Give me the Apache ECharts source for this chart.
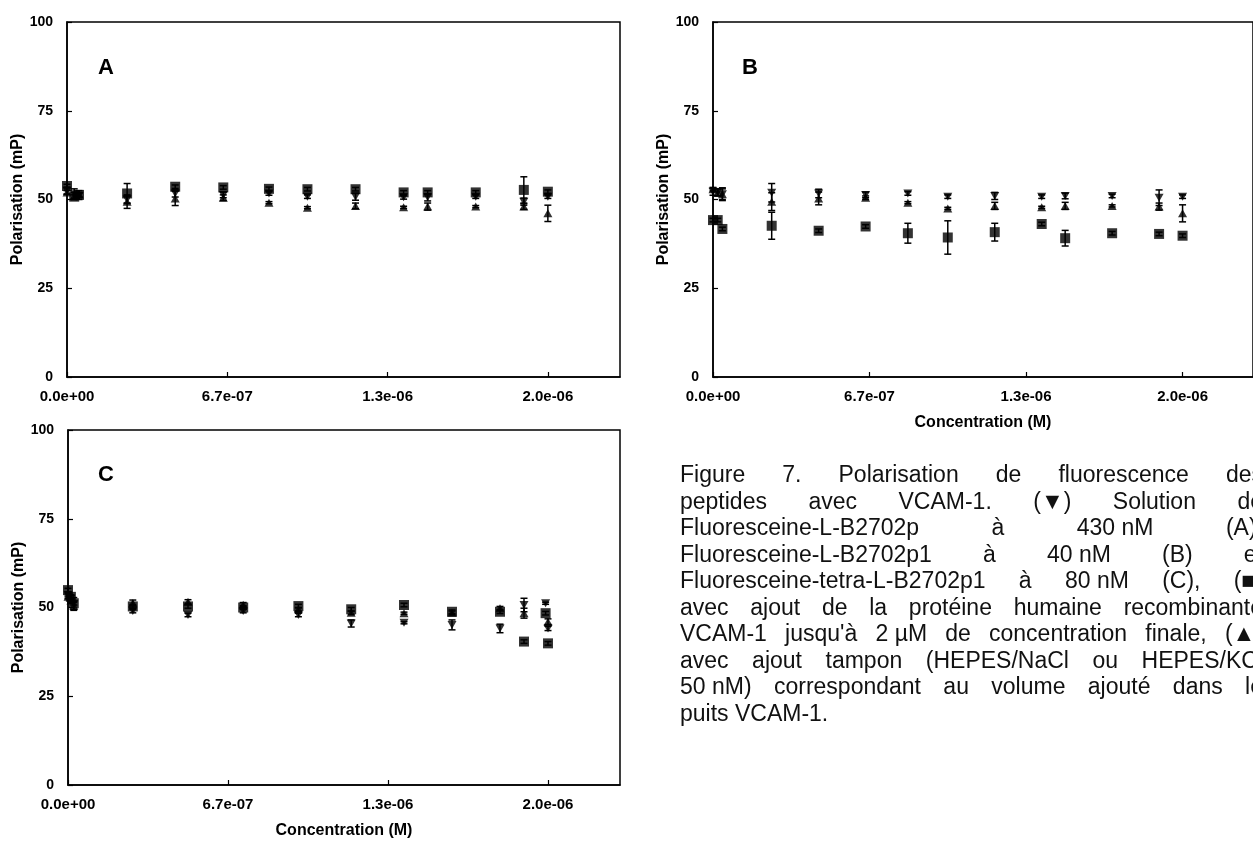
<!DOCTYPE html>
<html>
<head>
<meta charset="utf-8">
<script src="https://cdn.jsdelivr.net/npm/echarts@6/dist/echarts.min.js"></script>
<style>
  html, body { margin: 0; padding: 0; background: #fff; overflow: hidden; }
  #chart { position: absolute; left: 0; top: 0; width: 1253px; height: 843px; }
  #caption { position: absolute; left: 680px; top: 461px; width: 583px;
    font-family: "Liberation Sans", Arial, sans-serif; font-size: 23px; line-height: 26.5px; color: #111; }
  #caption div { white-space: nowrap; text-align: justify; text-align-last: justify; }
  #caption div.last { text-align: left; text-align-last: left; }
  .nb { display: inline-block; }
</style>
</head>
<body>
<div id="chart"></div>
<div id="caption">
  <div>Figure 7. Polarisation de fluorescence des</div>
  <div>peptides avec VCAM-1. <span class="nb">(▼)</span> Solution de</div>
  <div>Fluoresceine-L-B2702p à <span class="nb">430 nM</span> (A),</div>
  <div>Fluoresceine-L-B2702p1 à <span class="nb">40 nM</span> (B) et</div>
  <div>Fluoresceine-tetra-L-B2702p1 à <span class="nb">80 nM</span> (C), <span class="nb">(■)</span></div>
  <div>avec ajout de la protéine humaine recombinante</div>
  <div>VCAM-1 jusqu'à <span class="nb">2 µM</span> de concentration finale, <span class="nb">(▲)</span></div>
  <div>avec ajout tampon (HEPES/NaCl ou HEPES/KCl</div>
  <div><span class="nb">50 nM)</span> correspondant au volume ajouté dans le</div>
  <div class="last">puits VCAM-1.</div>
</div>
<script>
// ---------- Data (concentration in M, polarisation in mP) ----------
// Panel A
const xA = [0, 3e-8, 5e-8, 2.5e-7, 4.5e-7, 6.5e-7, 8.4e-7, 1.0e-6, 1.2e-6, 1.4e-6, 1.5e-6, 1.7e-6, 1.9e-6, 2.0e-6];
const aDown    = [52.5, 51.5, 51.0, 50.0, 51.7, 51.3, 51.7, 50.8, 50.8, 50.6, 50.6, 50.8, 49.4, 50.8];
const aDownErr = [1.0, 1.5, 1.0, 1.0, 1.0, 0.8, 0.5, 0.5, 1.0, 0.5, 1.0, 0.5, 1.0, 0.5];
const aSq      = [53.8, 50.8, 51.3, 51.7, 53.6, 53.4, 53.0, 52.9, 52.9, 52.0, 52.0, 52.0, 52.7, 52.2];
const aSqErr   = [0.5, 0.5, 0.5, 2.8, 0.5, 0.5, 0.5, 0.5, 0.5, 0.5, 0.5, 0.5, 3.7, 0.5];
const aUp      = [52.0, 51.0, 51.5, 49.4, 50.3, 50.5, 49.1, 47.7, 48.2, 47.8, 48.0, 48.0, 48.0, 46.1];
const aUpErr   = [0.5, 1.0, 1.0, 1.9, 2.0, 0.8, 0.3, 0.3, 0.8, 0.3, 1.0, 0.3, 0.8, 2.3];
// Panel B
const xB = [0, 2e-8, 4e-8, 2.5e-7, 4.5e-7, 6.5e-7, 8.3e-7, 1.0e-6, 1.2e-6, 1.4e-6, 1.5e-6, 1.7e-6, 1.9e-6, 2.0e-6];
const bDown    = [52.2, 52.0, 51.5, 51.9, 51.7, 51.3, 51.7, 50.8, 51.0, 50.8, 51.0, 51.0, 50.5, 50.8];
const bDownErr = [1.0, 1.0, 1.8, 2.6, 1.2, 0.8, 0.5, 0.5, 1.0, 0.5, 0.8, 0.5, 2.2, 0.5];
const bSq      = [44.2, 44.2, 41.7, 42.6, 41.2, 42.4, 40.5, 39.3, 40.8, 43.1, 39.1, 40.5, 40.3, 39.8];
const bSqErr   = [0.5, 0.5, 0.5, 3.8, 0.5, 0.5, 2.8, 4.7, 2.5, 0.5, 2.2, 0.5, 0.5, 0.5];
const bUp      = [52.9, 52.0, 51.5, 49.4, 50.3, 50.5, 49.1, 47.5, 48.2, 47.8, 48.2, 48.2, 48.0, 46.1];
const bUpErr   = [0.5, 1.0, 1.5, 2.5, 1.8, 0.5, 0.3, 0.3, 1.0, 0.3, 1.0, 0.3, 1.0, 2.4];
// Panel C
const xC = [0, 1.2e-8, 2.4e-8, 2.7e-7, 5.0e-7, 7.3e-7, 9.6e-7, 1.18e-6, 1.4e-6, 1.6e-6, 1.8e-6, 1.9e-6, 1.99e-6, 2.0e-6];
const cDown    = [53.5, 52.5, 51.0, 49.0, 47.9, 49.0, 47.9, 45.5, 45.7, 45.1, 44.1, 50.7, 51.2, 44.1];
const cDownErr = [0.5, 1.0, 1.8, 0.5, 0.5, 0.5, 0.5, 1.0, 0.3, 1.4, 1.2, 1.9, 0.3, 0.6];
const cSq      = [54.9, 53.0, 51.2, 50.3, 50.3, 50.0, 50.4, 49.5, 50.7, 48.8, 48.8, 40.4, 48.4, 39.9];
const cSqErr   = [0.5, 0.5, 0.5, 0.5, 0.5, 0.5, 0.5, 0.5, 0.5, 0.5, 0.5, 0.5, 0.5, 0.5];
const cUp      = [53.0, 52.0, 50.5, 51.3, 51.6, 50.8, 49.5, 48.5, 48.4, 48.5, 49.8, 48.4, null, 46.0];
const cUpErr   = [0.5, 0.8, 1.0, 0.8, 0.6, 0.6, 0.5, 0.5, 0.3, 0.5, 0.5, 1.4, null, 0.8];

const yTicks = [0, 25, 50, 75, 100];
const xTickStep = 2e-6 / 3;
const xMax = 2.3e-6;
const panelLetters = ['A', 'B', 'C'];

// ---------- Chart ----------
const FONT = '"Liberation Sans", Arial, sans-serif';
const chart = echarts.init(document.getElementById('chart'), null, { renderer: 'canvas', width: 1253, height: 843 });

function fmtExp(v) {
  const s = Number(v).toExponential(1);
  return s.replace(/e([+-])(\d)$/, 'e$10$2');
}
function pairs(xs, ys) {
  const out = [];
  xs.forEach((x, i) => { if (ys[i] != null) out.push([x, ys[i]]); });
  return out;
}
function triples(xs, ys, es) {
  const out = [];
  xs.forEach((x, i) => { if (ys[i] != null && es[i] != null) out.push([x, ys[i], es[i]]); });
  return out;
}
function errRender(params, api) {
  const x = api.value(0), y = api.value(1), e = api.value(2);
  const t = api.coord([x, y + e]);
  const b = api.coord([x, y - e]);
  const w = 3.5;
  const st = { stroke: '#000', lineWidth: 1.5 };
  return { type: 'group', children: [
    { type: 'line', shape: { x1: t[0], y1: t[1], x2: b[0], y2: b[1] }, style: st },
    { type: 'line', shape: { x1: t[0] - w, y1: t[1], x2: t[0] + w, y2: t[1] }, style: st },
    { type: 'line', shape: { x1: b[0] - w, y1: b[1], x2: b[0] + w, y2: b[1] }, style: st }
  ]};
}

const grids = [
  { left: 67, top: 22, width: 553, height: 355 },
  { left: 713, top: 22, width: 553, height: 355 },
  { left: 68, top: 430, width: 552, height: 355 }
].map(g => Object.assign(g, { show: true, borderColor: '#000', borderWidth: 1.5, backgroundColor: 'transparent', containLabel: false }));

const xNames = ['', 'Concentration (M)', 'Concentration (M)'];
const xAxes = grids.map((g, i) => ({
  type: 'value', gridIndex: i, min: 0, max: xMax, interval: xTickStep,
  name: xNames[i], nameLocation: 'middle', nameGap: 38,
  nameTextStyle: { fontFamily: FONT, fontWeight: 'bold', fontSize: 16, color: '#000' },
  axisLine: { show: true, onZero: false, lineStyle: { color: '#000', width: 1.5 } },
  axisTick: { show: true, inside: true, length: 5, lineStyle: { color: '#000', width: 1.2 } },
  axisLabel: { show: true, margin: 12, fontFamily: FONT, fontWeight: 'bold', fontSize: 15, color: '#000',
    showMaxLabel: false, formatter: (v) => (v > 2.1e-6 ? '' : fmtExp(v)) },
  splitLine: { show: false }
}));
const yAxes = grids.map((g, i) => ({
  type: 'value', gridIndex: i, min: yTicks[0], max: yTicks[yTicks.length - 1], interval: yTicks[1] - yTicks[0],
  name: 'Polarisation (mP)', nameLocation: 'middle', nameGap: 38,
  nameTextStyle: { fontFamily: FONT, fontWeight: 'bold', fontSize: 16, color: '#000' },
  axisLine: { show: true, onZero: false, lineStyle: { color: '#000', width: 1.5 } },
  axisTick: { show: true, inside: true, length: 5, lineStyle: { color: '#000', width: 1.2 } },
  axisLabel: { show: true, margin: 14, fontFamily: FONT, fontWeight: 'bold', fontSize: 14, color: '#000' },
  splitLine: { show: false }
}));

const panels = [
  { xs: xA, down: aDown, downErr: aDownErr, sq: aSq, sqErr: aSqErr, up: aUp, upErr: aUpErr },
  { xs: xB, down: bDown, downErr: bDownErr, sq: bSq, sqErr: bSqErr, up: bUp, upErr: bUpErr },
  { xs: xC, down: cDown, downErr: cDownErr, sq: cSq, sqErr: cSqErr, up: cUp, upErr: cUpErr }
];

const series = [];
panels.forEach((p, i) => {
  const common = { xAxisIndex: i, yAxisIndex: i, animation: false };
  [[p.down, p.downErr], [p.sq, p.sqErr], [p.up, p.upErr]].forEach(([ys, es]) => {
    series.push(Object.assign({ type: 'custom', renderItem: errRender, encode: { x: 0, y: 1 },
      data: triples(p.xs, ys, es), z: 2, silent: true }, common));
  });
  series.push(Object.assign({ type: 'scatter', symbol: 'triangle', symbolRotate: 180, symbolSize: [9, 8],
    itemStyle: { color: '#000' }, data: pairs(p.xs, p.down), z: 3 }, common));
  series.push(Object.assign({ type: 'scatter', symbol: 'triangle', symbolSize: [9, 8],
    itemStyle: { color: '#000' }, data: pairs(p.xs, p.up), z: 3 }, common));
  series.push(Object.assign({ type: 'scatter', symbol: 'rect', symbolSize: 10,
    itemStyle: { color: '#000' }, data: pairs(p.xs, p.sq), z: 4 }, common));
});

const letterPos = [[106, 68], [750, 68], [106, 475]];
const graphic = panelLetters.map((t, i) => ({
  type: 'text', x: letterPos[i][0], y: letterPos[i][1],
  style: { text: t, fontFamily: FONT, fontWeight: 'bold', fontSize: 22, fill: '#000', align: 'center', verticalAlign: 'middle' }
}));

chart.setOption({
  animation: false,
  backgroundColor: '#fff',
  grid: grids, xAxis: xAxes, yAxis: yAxes, series: series, graphic: graphic
});
</script>
</body>
</html>
